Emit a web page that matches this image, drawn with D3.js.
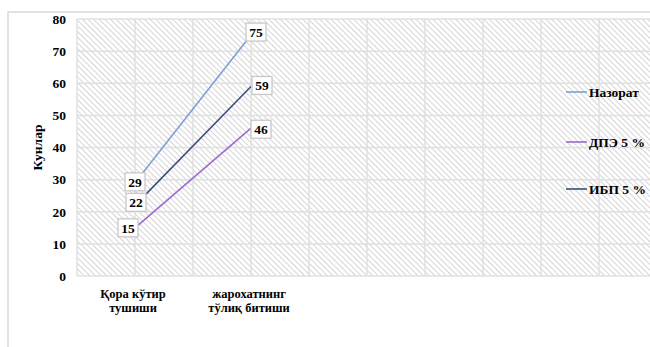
<!DOCTYPE html>
<html>
<head>
<meta charset="utf-8">
<script src="https://cdn.jsdelivr.net/npm/d3@7"></script>
<style>
  html, body { margin: 0; padding: 0; background: #fff; }
</style>
</head>
<body>
<svg id="chart" width="650" height="347"></svg>
<script>
const categories = [["Қора кўтир", "тушиши"], ["жарохатнинг", "тўлиқ битиши"]];
const seriesNames = ["Назорат", "ДПЭ 5 %", "ИБП 5 %"];
const nazoratValues = [29, 75];
const dpeValues = [15, 46];
const ibpValues = [22, 59];
const yTicks = [0, 10, 20, 30, 40, 50, 60, 70, 80];
const yTitle = "Кунлар";

const W = 650, H = 347;
const FONT = '"Liberation Serif", serif';
const plot = { left: 77, top: 19, right: 657, bottom: 276 };
const colors = { "Назорат": "#7f9fd6", "ДПЭ 5 %": "#9c6ad0", "ИБП 5 %": "#3a4f7e" };
// label offsets per series and category
const labelDx = { "Назорат": [0, 5], "ДПЭ 5 %": [-7, 10], "ИБП 5 %": [1, 11] };
const labelDy = { "Назорат": [-1, -3], "ДПЭ 5 %": [0, 1], "ИБП 5 %": [-3, -1] };
const legendY = [92, 142, 189];

const svg = d3.select("#chart");

const txt = (sel, size) => sel
  .style("font-family", FONT)
  .style("font-weight", "bold")
  .style("font-size", size + "px")
  .attr("fill", "#000");

const defs = svg.append("defs");
const pat = defs.append("pattern")
  .attr("id", "hatch")
  .attr("patternUnits", "userSpaceOnUse")
  .attr("width", 4).attr("height", 4)
  .attr("patternTransform", "rotate(-45)");
pat.append("rect").attr("width", 4).attr("height", 4).attr("fill", "#fff");
pat.append("line")
  .attr("x1", 0).attr("y1", 0).attr("x2", 0).attr("y2", 4)
  .attr("stroke", "#c8c8c8").attr("stroke-width", 1.5);

// chart border
svg.append("rect")
  .attr("x", 8).attr("y", 12)
  .attr("width", W).attr("height", H)
  .attr("fill", "#fff").attr("stroke", "#d9d9d9").attr("stroke-width", 1.5);

const y = d3.scaleLinear().domain([0, 80]).range([plot.bottom, plot.top]);
const x = d3.scaleLinear().domain([0, 5]).range([plot.left, plot.right]);
const catX = i => x(i + 0.5);

svg.append("rect")
  .attr("x", plot.left).attr("y", plot.top)
  .attr("width", plot.right - plot.left).attr("height", plot.bottom - plot.top)
  .attr("fill", "url(#hatch)");

// gridlines
const grid = svg.append("g").attr("stroke", "#e0e0e0").attr("stroke-width", 1.5);
grid.selectAll("line.h").data(yTicks).join("line")
  .attr("class", "h")
  .attr("x1", plot.left).attr("x2", plot.right)
  .attr("y1", d => y(d)).attr("y2", d => y(d));
grid.selectAll("line.v").data(d3.range(0, 5.01, 0.5)).join("line")
  .attr("class", "v")
  .attr("y1", plot.top).attr("y2", plot.bottom)
  .attr("x1", d => x(d)).attr("x2", d => x(d));

// y axis
const yAxis = svg.append("g")
  .attr("transform", `translate(${plot.left},0)`)
  .call(d3.axisLeft(y).tickValues(yTicks).tickSize(0).tickPadding(11));
yAxis.select(".domain").remove();
txt(yAxis.selectAll("text"), 13.5);

txt(svg.append("text"), 13.5)
  .attr("transform", `translate(42,${(plot.top + plot.bottom) / 2}) rotate(-90)`)
  .attr("text-anchor", "middle")
  .text(yTitle);

// category labels
const catG = svg.append("g");
categories.forEach((lines, i) => {
  lines.forEach((ln, j) => {
    txt(catG.append("text"), 12.5)
      .attr("x", catX(i) - 2).attr("y", 298 + j * 14)
      .attr("text-anchor", "middle")
      .text(ln);
  });
});

const series = [
  { name: seriesNames[0], values: nazoratValues },
  { name: seriesNames[1], values: dpeValues },
  { name: seriesNames[2], values: ibpValues }
];

const line = d3.line().x((d, i) => catX(i)).y(d => y(d));
svg.append("g").selectAll("path").data(series).join("path")
  .attr("d", d => line(d.values))
  .attr("fill", "none")
  .attr("stroke", d => colors[d.name])
  .attr("stroke-width", 1.6);

// data labels
const labels = svg.append("g");
series.forEach(s => {
  s.values.forEach((v, i) => {
    const cx = catX(i) + labelDx[s.name][i];
    const cy = y(v) + labelDy[s.name][i];
    const g = labels.append("g").attr("transform", `translate(${cx},${cy})`);
    g.append("rect")
      .attr("x", -10).attr("y", -9).attr("width", 20).attr("height", 18)
      .attr("fill", "#fff").attr("stroke", "#c8c8c8").attr("stroke-width", 1.3);
    txt(g.append("text"), 13.5)
      .attr("text-anchor", "middle").attr("dy", "0.35em")
      .text(v);
  });
});

// legend
const legend = svg.append("g");
series.forEach((s, i) => {
  const g = legend.append("g").attr("transform", `translate(566,${legendY[i]})`);
  g.append("line").attr("x1", 0).attr("x2", 21).attr("y1", 0).attr("y2", 0)
    .attr("stroke", colors[s.name]).attr("stroke-width", 1.6);
  txt(g.append("text"), 13.5).attr("x", 23).attr("dy", "0.35em")
    .text(s.name);
});
</script>
</body>
</html>
